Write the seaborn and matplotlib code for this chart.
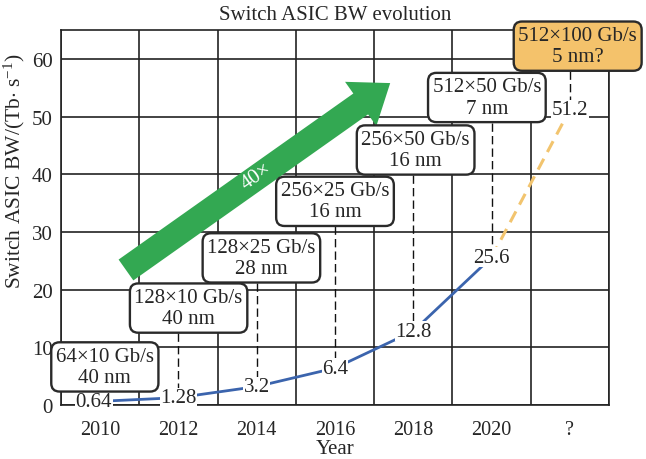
import matplotlib
matplotlib.use("Agg")
import matplotlib.pyplot as plt
import seaborn as sns
import numpy as np
import pandas as pd

# ---------------- data ----------------
years = ["2010", "2012", "2014", "2016", "2018", "2020", "?"]
bandwidth = [0.64, 1.28, 3.2, 6.4, 12.8, 25.6, 51.2]
value_labels = ["0.64", "1.28", "3.2", "6.4", "12.8", "25.6", "51.2"]
chip_configs = ["64×10 Gb/s\n40 nm", "128×10 Gb/s\n40 nm", "128×25 Gb/s\n28 nm",
                "256×25 Gb/s\n16 nm", "256×50 Gb/s\n16 nm", "512×50 Gb/s\n7 nm",
                "512×100 Gb/s\n5 nm?"]
growth_label = "40×"
title = "Switch ASIC BW evolution"
xlabel = "Year"
ylabel = r"Switch ASIC BW/(Tb$\cdot$ s$^{-1}$)"

# ---------------- layout ----------------
box_x = [0.06, 1.13, 2.06, 3.0, 4.03, 4.94, 6.1]
box_y = [6.6, 16.8, 25.5, 35.3, 44.2, 53.3, 62.2]
arrow_tail = (0.33, 23.4)
arrow_tip = (3.705, 55.8)

sns.set_style("white")
plt.rcParams["font.family"] = ["Liberation Serif", "DejaVu Serif"]
plt.rcParams["mathtext.fontset"] = "custom"
plt.rcParams["mathtext.rm"] = "Liberation Serif"
plt.rcParams["mathtext.it"] = "Liberation Serif:italic"

fig = plt.figure(figsize=(6.46, 4.6), dpi=100)
ax = fig.add_axes([61 / 646, 1 - 406 / 460, (609 - 61) / 646, (406 - 31) / 460])

xs = np.arange(len(years))
df = pd.DataFrame({"x": xs, "bw": bandwidth})
known = df.iloc[:6]
future = df.iloc[5:]

sns.lineplot(data=known, x="x", y="bw", ax=ax, color="#3B64AD", lw=2.0, zorder=2)
sns.lineplot(data=future, x="x", y="bw", ax=ax, color="#F2C46E", lw=2.2, zorder=2)
ax.lines[-1].set_dashes((4, 2.5))

ax.set_xlim(-0.5, 6.5)
ax.set_ylim(0, 65)
ax.set_xticks(xs)
ax.set_xticklabels(years)
ax.set_xticks(np.arange(-0.5, 7, 1), minor=True)
ax.set_yticks(range(0, 61, 10))
ax.grid(which="minor", axis="x", color="#222222", lw=1.2, zorder=0.5)
ax.grid(which="major", axis="y", color="#222222", lw=1.2, zorder=0.5)
ax.grid(which="major", axis="x", visible=False)
ax.set_axisbelow(True)
for s in ax.spines.values():
    s.set_color("#222222")
    s.set_linewidth(1.2)
ax.tick_params(which="both", length=0, labelsize=15)
ax.tick_params(axis="x", pad=11, labelsize=14.5)
ax.tick_params(axis="y", pad=6)

ax.set_xlabel(xlabel, fontsize=15, labelpad=0)
ax.set_ylabel(ylabel, fontsize=15.5)
ax.yaxis.set_label_coords(-0.062, 0.627)
ax.set_title(title, fontsize=15, pad=8)

# dashed leaders from boxes to values
for i in range(1, len(xs)):
    ax.plot([xs[i], xs[i]], [box_y[i], bandwidth[i]], color="#111111", lw=1.0,
            dashes=(6, 3), zorder=2.5)

# value labels
for i in range(len(xs)):
    ax.text(xs[i] - (0.08 if i == 0 else 0), bandwidth[i], value_labels[i], ha="center", va="center",
            fontsize=15, zorder=3,
            bbox=dict(boxstyle="square,pad=0.02", fc="white", ec="none"))

# growth arrow
ax.annotate("", xy=arrow_tip, xytext=arrow_tail,
            arrowprops=dict(arrowstyle="simple,head_length=2.6,head_width=3.9,tail_width=1.84",
                            mutation_scale=10, fc="#33A852", ec="none",
                            shrinkA=0, shrinkB=0), zorder=4)
ax.text(1.99, 39.7, growth_label, color="white", fontsize=15, rotation=35,
        ha="center", va="center", zorder=4.5)

# chip boxes
for i in range(len(xs)):
    fc = "#F4C26B" if i == len(xs) - 1 else "white"
    ax.text(box_x[i], box_y[i], chip_configs[i], ha="center", va="center",
            fontsize=15, linespacing=1.15, zorder=5, clip_on=False,
            bbox=dict(boxstyle="round,pad=0.22,rounding_size=0.4", fc=fc,
                      ec="#2a2a2a", lw=1.7))

fig.savefig("out.png", dpi=100)
